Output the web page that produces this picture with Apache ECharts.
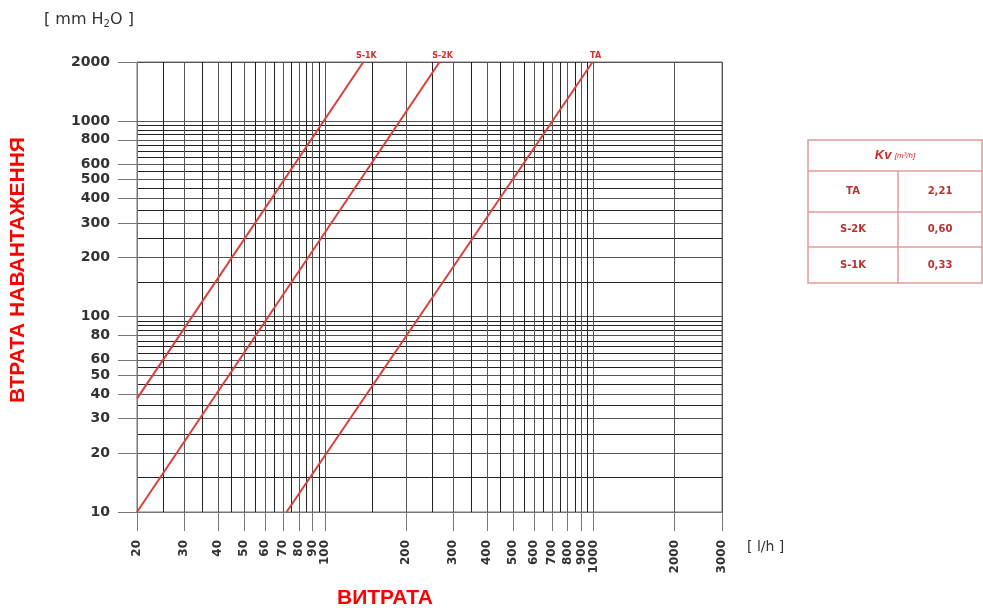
<!DOCTYPE html>
<html>
<head>
<meta charset="utf-8">
<script src="https://cdn.jsdelivr.net/npm/echarts@6/dist/echarts.min.js"></script>
<style>html,body{margin:0;padding:0;background:#fff;}#c{width:983px;height:608px;}</style>
</head>
<body>
<div id="c"></div>
<script>
// ---- data ----
const xLabeled = [20,30,40,50,60,70,80,90,100,200,300,400,500,600,700,800,900,1000,2000,3000];
const xMinorGrid = [25,35,45,55,65,75,85,95,150,250,350,450,550,650,750,850,950];
const yLabeled = [10,20,30,40,50,60,80,100,200,300,400,500,600,800,1000,2000];
const yMinorGrid = [15,25,35,45,55,65,70,75,85,90,95,150,250,350,450,550,650,700,750,850,900,950];

const s1kFlow = [20, 139];   const s1kLoss = [38, 2000];
const s2kFlow = [20, 267];   const s2kLoss = [10, 2000];
const taFlow  = [72, 990];   const taLoss  = [10, 2000];

const kvNames  = ['TA', 'S-2K', 'S-1K'];
const kvValues = ['2,21', '0,60', '0,33'];

const yTitle = 'ВТРАТА НАВАНТАЖЕННЯ';
const xTitle = 'ВИТРАТА';

// ---- chart ----
const RED = '#d8413a';
function pts(xs, ys){ return xs.map((x,i)=>[x, ys[i]]); }
function mkSeries(name, xs, ys){
  const d = pts(xs, ys).map((p,i,arr)=> i===arr.length-1 ? {value:p, label:{show:true, formatter:name, position:'top', distance:2, offset:[3,0], color:'#d03030', fontSize:8, fontWeight:'bold', fontFamily:'DejaVu Sans'}} : {value:p});
  return {type:'line', name, xAxisIndex:1, yAxisIndex:1, data:d, symbol:'circle', symbolSize:0, showSymbol:true,
          itemStyle:{color:RED}, lineStyle:{color:RED, width:2}, silent:true, z:5};
}

const axisFont = {fontFamily:'DejaVu Sans', fontWeight:'bold', color:'#333', formatter:(v)=>String(v)};

const option = {
  backgroundColor:'#fff',
  animation:false,
  grid:{left:137, right:261, top:62, bottom:96, show:true, borderColor:'#777', borderWidth:1},
  xAxis:[
    {type:'log', logBase:10, min:20, max:3000, position:'bottom',
     axisLine:{show:false}, axisTick:{show:false, customValues:xMinorGrid}, axisLabel:{show:false},
     splitLine:{show:true, lineStyle:{color:'#222', width:1}}},
    {type:'log', logBase:10, min:20, max:3000, position:'bottom',
     axisLine:{show:true, lineStyle:{color:'#777'}},
     axisTick:{show:true, customValues:xLabeled, length:19, lineStyle:{color:'#777'}},
     axisLabel:Object.assign({customValues:xLabeled, rotate:90, margin:28, fontSize:12}, axisFont),
     splitLine:{show:true, lineStyle:{color:'#555', width:1}}}
  ],
  yAxis:[
    {type:'log', logBase:10, min:10, max:2000, position:'left',
     axisLine:{show:false}, axisTick:{show:false, customValues:yMinorGrid}, axisLabel:{show:false},
     splitLine:{show:true, lineStyle:{color:'#222', width:1}}},
    {type:'log', logBase:10, min:10, max:2000, position:'left',
     axisLine:{show:true, lineStyle:{color:'#777'}},
     axisTick:{show:true, customValues:yLabeled, length:19, lineStyle:{color:'#777'}},
     axisLabel:Object.assign({customValues:yLabeled, margin:27, fontSize:14}, axisFont),
     splitLine:{show:true, lineStyle:{color:'#555', width:1}}}
  ],
  series:[
    mkSeries('S-1K', s1kFlow, s1kLoss),
    mkSeries('S-2K', s2kFlow, s2kLoss),
    mkSeries('TA', taFlow, taLoss)
  ],
  graphic:[]
};

// titles and units
option.graphic.push(
  {type:'text', left:44, top:12, style:{text:'[ mm H{s|2}O ]', rich:{s:{fontSize:10, padding:[9,0,0,0], fontFamily:'DejaVu Sans', fill:'#333'}}, font:'16px DejaVu Sans', fill:'#333'}},
  {type:'text', left:747, top:540, style:{text:'[ l/h ]', font:'14px DejaVu Sans', fill:'#333'}},
  {type:'text', x:385, y:598, style:{text:xTitle, font:'bold 21px "Liberation Sans", Arial', fill:'#ff0000', align:'center', verticalAlign:'middle'}},
  {type:'text', x:18, y:270, rotation:Math.PI/2, style:{text:yTitle, font:'bold 21px "Liberation Sans", Arial', fill:'#ff0000', align:'center', verticalAlign:'middle'}}
);

// Kv table
const tL = 808, tR = 982, tT = 140, hB = 171, colX = 898;
const rowB = [212, 247, 283];
const tBorder = {stroke:'#e49a9a', lineWidth:1.5};
option.graphic.push({type:'rect', shape:{x:tL, y:tT, width:tR-tL, height:rowB[2]-tT}, style:Object.assign({fill:'#fff'}, tBorder), z:1});
option.graphic.push({type:'line', shape:{x1:tL, y1:hB, x2:tR, y2:hB}, style:tBorder, z:2});
option.graphic.push({type:'line', shape:{x1:colX, y1:hB, x2:colX, y2:rowB[2]}, style:tBorder, z:2});
option.graphic.push({type:'line', shape:{x1:tL, y1:rowB[0], x2:tR, y2:rowB[0]}, style:tBorder, z:2});
option.graphic.push({type:'line', shape:{x1:tL, y1:rowB[1], x2:tR, y2:rowB[1]}, style:tBorder, z:2});
option.graphic.push({type:'text', x:(tL+tR)/2, y:(tT+hB)/2, z:3, style:{text:'{k|Kv} {u|[m³/h]}', align:'center', verticalAlign:'middle',
  rich:{k:{font:'italic bold 13px "Liberation Sans", Arial', fill:'#cc2a2a'}, u:{font:'italic 8px "Liberation Sans", Arial', fill:'#cc2a2a'}}}});
const rowTops = [hB, rowB[0], rowB[1]];
kvNames.forEach((n,i)=>{
  const cy = (rowTops[i] + rowB[i]) / 2;
  option.graphic.push({type:'text', x:(tL+colX)/2, y:cy, z:3, style:{text:n, font:'bold 10px "DejaVu Sans"', fill:'#b83232', align:'center', verticalAlign:'middle'}});
  option.graphic.push({type:'text', x:(colX+tR)/2, y:cy, z:3, style:{text:kvValues[i], font:'bold 10px "DejaVu Sans"', fill:'#b83232', align:'center', verticalAlign:'middle'}});
});

const chart = echarts.init(document.getElementById('c'), null, {renderer:'canvas'});
chart.setOption(option);
</script>
</body>
</html>
